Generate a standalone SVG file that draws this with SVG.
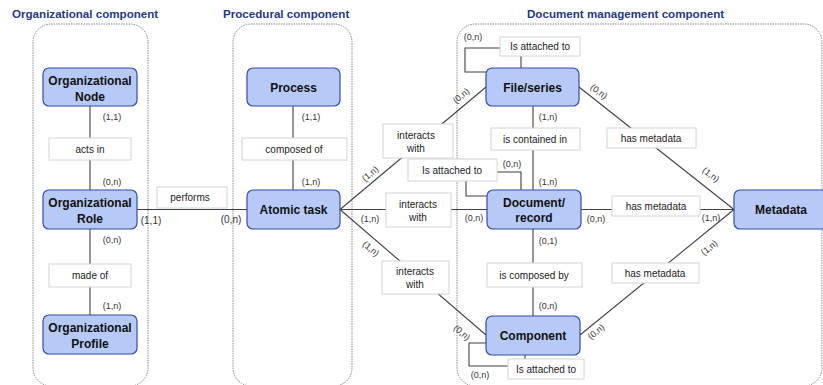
<svg xmlns="http://www.w3.org/2000/svg" width="823" height="385" viewBox="0 0 823 385">
  <style>
    .title { font-family: "Liberation Sans", Arial, sans-serif; font-weight: bold; font-size: 11.6px; fill: #1F3A80; }
    .area { fill: none; stroke: #8A8A8A; stroke-width: 1; stroke-dasharray: 1.5 1; }
    .node rect { fill: #B7C9F7; stroke: #2F4FA8; stroke-width: 1.2; }
    .node text { font-family: "Liberation Sans", Arial, sans-serif; font-weight: bold; font-size: 12px; fill: #111; text-anchor: middle; }
    .rel rect { fill: #fff; stroke: #D4D4D4; stroke-width: 1; }
    .rel text { font-family: "Liberation Sans", Arial, sans-serif; font-size: 10px; fill: #222; text-anchor: middle; }
    .conn path { fill: none; stroke: #404040; stroke-width: 1.1; }
    .card { font-family: "Liberation Sans", Arial, sans-serif; font-size: 9px; fill: #333; text-anchor: middle; }
    .card.big { font-size: 10px; }
  </style>

  <!-- component titles -->
  <text class="title" x="12" y="18">Organizational component</text>
  <text class="title" x="223" y="18">Procedural component</text>
  <text class="title" x="527" y="18">Document management component</text>

  <!-- component areas -->
  <rect class="area" x="33" y="24" width="115" height="362" rx="18"/>
  <rect class="area" x="233" y="24" width="119" height="362" rx="18"/>
  <rect class="area" x="457" y="24" width="365" height="362" rx="18"/>

  <!-- connectors -->
  <g id="connectors" class="conn">
    <path d="M90,106 V190"/>
    <path d="M90,229 V315"/>
    <path d="M137,209.5 H247"/>
    <path d="M293,106 V190"/>
    <path d="M340,209.5 L486,87"/>
    <path d="M340,209.5 H487"/>
    <path d="M340,209.5 L486,335"/>
    <path d="M533,106 V190"/>
    <path d="M533,229 V316"/>
    <path d="M579,87 L734,209.5"/>
    <path d="M581,209.5 H734"/>
    <path d="M580,335 L734,209.5"/>
    <!-- self references -->
    <path d="M486,72 H465 V48 H500"/>
    <path d="M521,56 V68"/>
    <path d="M466,181 V196 H487"/>
    <path d="M497,172 H521 V190"/>
    <path d="M486,343 H469 V366 H508"/>
    <path d="M525,355 V359"/>
  </g>

  <!-- relationship labels -->
  <g id="rel-acts-in" class="rel"><rect x="49" y="138" width="82" height="22"/><text x="90" y="153">acts in</text></g>
  <g id="rel-made-of" class="rel"><rect x="49" y="264" width="82" height="23"/><text x="90" y="279">made of</text></g>
  <g id="rel-performs" class="rel"><rect x="157" y="187" width="70" height="21"/><text x="190" y="201">performs</text></g>
  <g id="rel-composed-of" class="rel"><rect x="242" y="138" width="105" height="22"/><text x="294" y="153">composed of</text></g>
  <g id="rel-interacts-1" class="rel"><rect x="383" y="124" width="70" height="34"/><text x="416" y="139">interacts</text><text x="416" y="152">with</text></g>
  <g id="rel-attached-doc" class="rel"><rect x="408" y="159" width="89" height="22"/><text x="452" y="174">Is attached to</text></g>
  <g id="rel-interacts-2" class="rel"><rect x="386" y="193" width="65" height="34"/><text x="418" y="208">interacts</text><text x="418" y="221">with</text></g>
  <g id="rel-interacts-3" class="rel"><rect x="382" y="261" width="67" height="33"/><text x="415" y="275">interacts</text><text x="415" y="288">with</text></g>
  <g id="rel-attached-file" class="rel"><rect x="500" y="37" width="80" height="19"/><text x="540" y="50">Is attached to</text></g>
  <g id="rel-contained" class="rel"><rect x="491" y="128" width="89" height="22"/><text x="535" y="143">is contained in</text></g>
  <g id="rel-composed-by" class="rel"><rect x="487" y="263" width="95" height="24"/><text x="534" y="279">is composed by</text></g>
  <g id="rel-attached-comp" class="rel"><rect x="508" y="359" width="76" height="20"/><text x="546" y="373">Is attached to</text></g>
  <g id="rel-meta-file" class="rel"><rect x="607" y="128" width="89" height="20"/><text x="651" y="142">has metadata</text></g>
  <g id="rel-meta-doc" class="rel"><rect x="612" y="196" width="88" height="20"/><text x="656" y="210">has metadata</text></g>
  <g id="rel-meta-comp" class="rel"><rect x="612" y="263" width="87" height="20"/><text x="655" y="277">has metadata</text></g>

  <!-- nodes -->
  <g id="org-node" class="node"><rect x="43" y="68" width="94" height="38" rx="6"/><text x="90" y="84.5">Organizational</text><text x="90" y="100.5">Node</text></g>
  <g id="org-role" class="node"><rect x="43" y="190" width="94" height="39" rx="6"/><text x="90" y="207">Organizational</text><text x="90" y="223">Role</text></g>
  <g id="org-profile" class="node"><rect x="43" y="315" width="94" height="39" rx="6"/><text x="90" y="332">Organizational</text><text x="90" y="348">Profile</text></g>
  <g id="process" class="node"><rect x="247" y="68" width="93" height="38" rx="6"/><text x="293.5" y="92">Process</text></g>
  <g id="atomic-task" class="node"><rect x="247" y="190" width="93" height="39" rx="6"/><text x="293.5" y="214">Atomic task</text></g>
  <g id="file-series" class="node"><rect x="486" y="68" width="93" height="38" rx="6"/><text x="532.5" y="92">File/series</text></g>
  <g id="document-record" class="node"><rect x="487" y="190" width="94" height="39" rx="6"/><text x="534" y="207">Document/</text><text x="534" y="222">record</text></g>
  <g id="component" class="node"><rect x="486" y="316" width="94" height="39" rx="6"/><text x="533" y="340">Component</text></g>
  <g id="metadata" class="node"><rect x="734" y="190" width="94" height="39" rx="6"/><text x="781" y="214">Metadata</text></g>

  <!-- cardinalities -->
  <g id="cardinalities">
    <text class="card" x="112" y="120">(1,1)</text>
    <text class="card" x="112" y="185">(0,n)</text>
    <text class="card" x="112" y="243">(0,n)</text>
    <text class="card" x="112" y="309">(1,n)</text>
    <text class="card big" x="151" y="223.5">(1,1)</text>
    <text class="card big" x="231" y="222.5">(0,n)</text>
    <text class="card" x="311" y="120">(1,1)</text>
    <text class="card" x="311" y="185">(1,n)</text>
    <text class="card" x="370" y="222">(1,n)</text>
    <text class="card" transform="translate(372,176) rotate(-40)">(1,n)</text>
    <text class="card" transform="translate(369,251) rotate(40)">(1,n)</text>
    <text class="card" transform="translate(463,98) rotate(-40)">(0,n)</text>
    <text class="card" x="474" y="221">(0,n)</text>
    <text class="card" transform="translate(460,335) rotate(40)">(0,n)</text>
    <text class="card" x="473" y="40">(0,n)</text>
    <text class="card" x="548" y="120">(1,n)</text>
    <text class="card" x="512" y="167">(0,n)</text>
    <text class="card" x="548" y="185">(1,n)</text>
    <text class="card" x="548" y="244">(0,1)</text>
    <text class="card" x="548" y="309">(0,n)</text>
    <text class="card" x="480" y="378">(0,n)</text>
    <text class="card" transform="translate(597,94) rotate(38)">(0,n)</text>
    <text class="card" x="596" y="222">(0,n)</text>
    <text class="card" transform="translate(598,334) rotate(-39)">(0,n)</text>
    <text class="card" transform="translate(709,177) rotate(38)">(1,n)</text>
    <text class="card" x="711" y="221">(1,n)</text>
    <text class="card" transform="translate(711,250) rotate(-39)">(1,n)</text>
  </g>
</svg>
